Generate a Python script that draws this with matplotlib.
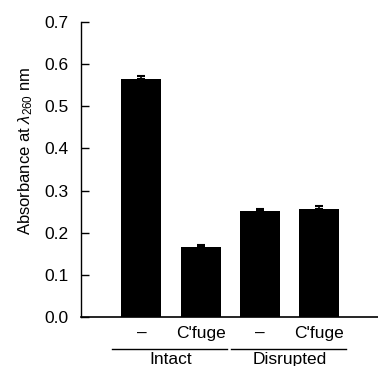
import matplotlib
matplotlib.use("Agg")
from matplotlib import pyplot as plt

# Daten
conditions = ["–", "C'fuge", "–", "C'fuge"]
groups = ["Intact", "Disrupted"]
absorbance = [0.564, 0.167, 0.251, 0.256]
errors = [0.009, 0.005, 0.006, 0.007]
yticks = [0.0, 0.1, 0.2, 0.3, 0.4, 0.5, 0.6, 0.7]

plt.rcParams['font.family'] = ['Liberation Sans', 'DejaVu Sans']
plt.rcParams['mathtext.fontset'] = 'custom'
plt.rcParams['mathtext.rm'] = 'Liberation Sans'
plt.rcParams['mathtext.it'] = 'Liberation Sans:italic'

fig = plt.figure(figsize=(3.78, 3.66), dpi=100)
ax = fig.add_axes([0.2143, 0.1339, 0.7857, 0.806])

x = range(len(absorbance))
ax.bar(x, absorbance, width=0.675, color='black')
ax.errorbar(x, absorbance, yerr=[[0] * len(errors), errors], fmt='none',
            ecolor='black', elinewidth=1.2, capsize=2.7, capthick=1.5)

ax.set_xlim(-1.02, 3.99)
ax.set_ylim(0, 0.7)
ax.set_yticks(yticks)
ax.set_yticklabels(["%.1f" % t for t in yticks])
ax.tick_params(axis='y', direction='in', length=6, width=1, labelsize=12.5, pad=9)
ax.set_xticks([])
ax.spines['top'].set_visible(False)
ax.spines['right'].set_visible(False)
ax.spines['left'].set_linewidth(1)
ax.spines['bottom'].set_linewidth(1.2)

# Y ekseni başlığı
fig.text(26 / 378, 1 - 151 / 366, r"Absorbance at $\lambda_{260}$ nm", rotation=90,
         ha='center', va='center', fontsize=12)

# Alt etiketler
for i, c in enumerate(conditions):
    ax.text(i, -0.056, c, ha='center', va='center', fontsize=12.5,
            transform=ax.get_xaxis_transform())
for g, (a, b) in enumerate([(0, 1), (2, 3)]):
    ax.plot([a - 0.49, b + 0.445], [-0.108, -0.108], color='black', lw=1,
            transform=ax.get_xaxis_transform(), clip_on=False)
    ax.text((a + b) / 2, -0.158, groups[g], ha='center', va='baseline', fontsize=12.5,
            transform=ax.get_xaxis_transform())

fig.savefig("out.png", dpi=100)
